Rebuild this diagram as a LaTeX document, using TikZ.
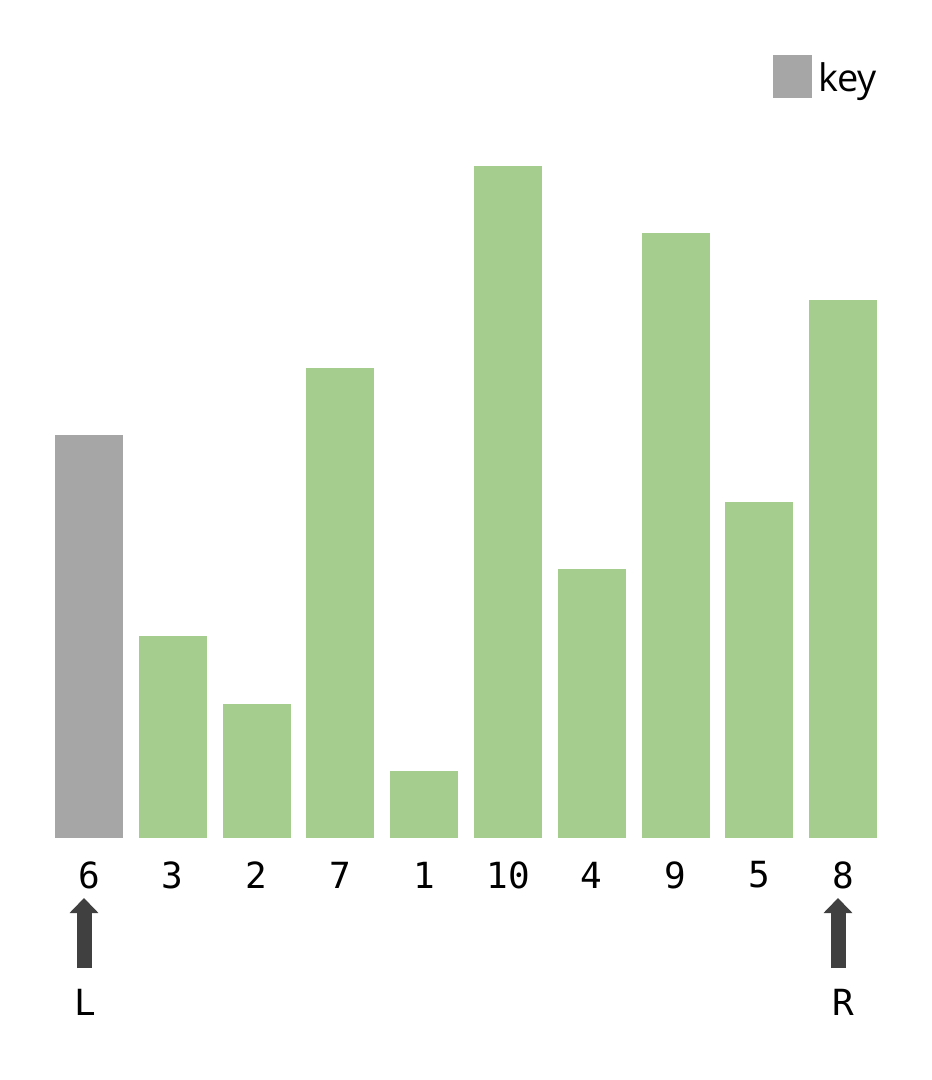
\documentclass[tikz,border=0pt]{standalone}
\usepackage{fontspec}
\setmonofont{DejaVu Sans Mono}
\newfontfamily\keyfont{Open Sans}
\usetikzlibrary{arrows.meta}
\definecolor{bargreen}{RGB}{165,205,142}
\definecolor{bargray}{RGB}{166,166,166}
\definecolor{arrowgray}{RGB}{64,64,64}
\begin{document}
\begin{tikzpicture}[x=1pt,y=-1pt,
  barbox/.style={fill=bargreen,draw=none},
  keybar/.style={fill=bargray,draw=none},
  numlabel/.style={font=\ttfamily\fontsize{36}{40}\selectfont,inner sep=0pt,anchor=center},
  ptr/.style={draw=arrowgray,line width=15pt,-{Triangle[width=28pt,length=15pt]}},
  ptrname/.style={font=\ttfamily\fontsize{36}{40}\selectfont,inner sep=0pt,anchor=center}]
\useasboundingbox (0,0) rectangle (932,1080);
% bars
\foreach \v [count=\i from 0] in {6,3,2,7,1,10,4,9,5,8}{
  \pgfmathsetmacro{\xl}{55+83.8*\i}
  \pgfmathsetmacro{\yt}{838-67.2*\v}
  \ifnum\i=0
    \path[keybar] (\xl,\yt) rectangle ++(68,838-\yt) node[pos=.5,inner sep=0pt] (bar\i) {};
  \else
    \path[barbox] (\xl,\yt) rectangle ++(68,838-\yt) node[pos=.5,inner sep=0pt] (bar\i) {};
  \fi
  \node[numlabel] (lab\i) at (\xl+34,875) {\v};
}
% key
\path[keybar] (773,55) rectangle (812,98);
\node[font=\keyfont\fontsize{38}{44}\selectfont,inner sep=0pt,anchor=base west] (key) at (818,91) {key};
% pointers
\node[ptrname] (L) at (85,1002) {L};
\node[ptrname] (R) at (843,1002) {R};
\coordinate (Lbot) at (84,968);
\coordinate (Ltop) at (84,898);
\coordinate (Rbot) at (838,968);
\coordinate (Rtop) at (838,898);
\draw[ptr] (Lbot) -- (Ltop);
\draw[ptr] (Rbot) -- (Rtop);
\end{tikzpicture}
\end{document}
